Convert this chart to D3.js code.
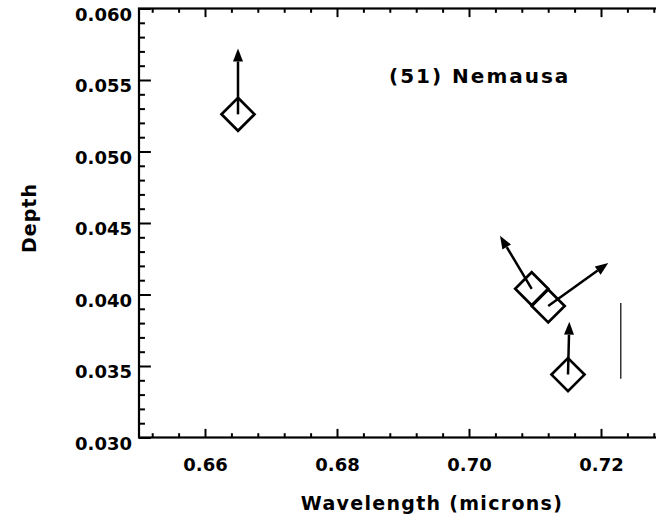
<!DOCTYPE html>
<html>
<head>
<meta charset="utf-8">
<script src="https://cdn.jsdelivr.net/npm/d3@7"></script>
<style>
  html, body { margin: 0; padding: 0; background: #fff; }
  svg { display: block; }
  text { font-family: "DejaVu Sans", sans-serif; font-weight: bold; fill: #000; }
</style>
</head>
<body>
<div id="chart"></div>
<script>
// wavelength (microns) and band depth of each measurement
const wavelength = [0.665, 0.7095, 0.712, 0.715];
const depth = [0.0526, 0.0404, 0.0392, 0.0344];

// where each arrow ends, same units
const arrowWavelength = [0.665, 0.7047, 0.7211, 0.7152];
const arrowDepth = [0.0572, 0.0441, 0.0422, 0.0381];

// lone vertical bar at the right
const barWavelength = [0.7230];
const barDepth = [[0.0341, 0.0394]];

const xMajor = [0.66, 0.68, 0.70, 0.72];
const yMajor = [0.030, 0.035, 0.040, 0.045, 0.050, 0.055, 0.060];

const title = '(51) Nemausa';
const xTitle = 'Wavelength (microns)';
const yTitle = 'Depth';

const width = 656, height = 522;
const plotLeft = 139, plotRight = 733, plotTop = 8.5, plotBottom = 437.5;

const x = d3.scaleLinear().domain([0.65, 0.74]).range([plotLeft, plotRight]);
const y = d3.scaleLinear().domain([0.030, 0.060]).range([plotBottom, plotTop]);

const xMinor = d3.range(0.652, 0.7401, 0.004).filter(v => !xMajor.some(m => Math.abs(m - v) < 1e-6));
const yMinor = d3.range(0.031, 0.0601, 0.001).filter(v => !yMajor.some(m => Math.abs(m - v) < 1e-6));

const svg = d3.select('#chart').append('svg')
  .attr('width', width)
  .attr('height', height);

// ticks: inward on all four sides, minor ones half as long
const xTick = 8.6, yTick = 11.9;

function addAxis(axis, transform) {
  const g = svg.append('g').attr('transform', transform).call(axis);
  g.select('.domain').remove();
  g.selectAll('.tick line').attr('stroke', '#000').attr('stroke-width', 2);
  return g;
}

const bottomAxis = addAxis(d3.axisBottom(x).tickValues(xMajor).tickSize(-xTick).tickPadding(21)
  .tickFormat(d3.format('.2f')), `translate(0,${plotBottom})`);
bottomAxis.selectAll('text').attr('font-size', 18).attr('font-family', null);
addAxis(d3.axisBottom(x).tickValues(xMinor).tickSize(-xTick / 2).tickFormat(''), `translate(0,${plotBottom})`);
addAxis(d3.axisTop(x).tickValues(xMajor).tickSize(-xTick).tickFormat(''), `translate(0,${plotTop})`);
addAxis(d3.axisTop(x).tickValues(xMinor).tickSize(-xTick / 2).tickFormat(''), `translate(0,${plotTop})`);

const leftAxis = addAxis(d3.axisLeft(y).tickValues(yMajor).tickSize(-yTick).tickPadding(7)
  .tickFormat(d3.format('.3f')), `translate(${plotLeft},0)`);
leftAxis.selectAll('text').attr('font-size', 18).attr('font-family', null).attr('dy', '0.64em');
addAxis(d3.axisLeft(y).tickValues(yMinor).tickSize(-yTick / 2).tickFormat(''), `translate(${plotLeft},0)`);
addAxis(d3.axisRight(y).tickValues(yMajor).tickSize(-yTick).tickFormat(''), `translate(${plotRight},0)`);
addAxis(d3.axisRight(y).tickValues(yMinor).tickSize(-yTick / 2).tickFormat(''), `translate(${plotRight},0)`);

// frame
svg.append('rect')
  .attr('x', plotLeft).attr('y', plotTop)
  .attr('width', plotRight - plotLeft).attr('height', plotBottom - plotTop)
  .attr('fill', 'none').attr('stroke', '#000').attr('stroke-width', 2.2);

// arrows from each point
const pts = wavelength.map((w, i) => ({
  x0: x(w), y0: y(depth[i]), x1: x(arrowWavelength[i]), y1: y(arrowDepth[i])
}));

const headLen = 13, headHalf = 5;
pts.forEach(p => {
  const a = Math.atan2(p.y1 - p.y0, p.x1 - p.x0);
  const bx = p.x1 - headLen * Math.cos(a), by = p.y1 - headLen * Math.sin(a);
  svg.append('line')
    .attr('x1', p.x0).attr('y1', p.y0).attr('x2', bx).attr('y2', by)
    .attr('stroke', '#000').attr('stroke-width', 2.5);
  const nx = -Math.sin(a) * headHalf, ny = Math.cos(a) * headHalf;
  svg.append('path')
    .attr('d', `M${p.x1},${p.y1}L${bx + nx},${by + ny}L${bx - nx},${by - ny}Z`)
    .attr('fill', '#000');
});

// diamonds
const r = 16.5;
svg.selectAll('path.diamond').data(pts).join('path')
  .attr('class', 'diamond')
  .attr('d', p => `M${p.x0},${p.y0 - r}L${p.x0 + r},${p.y0}L${p.x0},${p.y0 + r}L${p.x0 - r},${p.y0}Z`)
  .attr('fill', 'none').attr('stroke', '#000').attr('stroke-width', 2.7);

// thin vertical bar
svg.selectAll('line.bar').data(barWavelength).join('line')
  .attr('class', 'bar')
  .attr('x1', d => x(d)).attr('x2', d => x(d))
  .attr('y1', (d, i) => y(barDepth[i][0])).attr('y2', (d, i) => y(barDepth[i][1]))
  .attr('stroke', '#000').attr('stroke-width', 1.2);

// texts
svg.append('text')
  .attr('x', 389).attr('y', 83)
  .attr('font-size', 20).attr('letter-spacing', 2)
  .text(title);

svg.append('text')
  .attr('x', 432).attr('y', 510)
  .attr('text-anchor', 'middle')
  .attr('font-size', 19).attr('letter-spacing', 1.3)
  .text(xTitle);

svg.append('text')
  .attr('transform', 'translate(36,218) rotate(-90)')
  .attr('text-anchor', 'middle')
  .attr('font-size', 19).attr('letter-spacing', 1)
  .text(yTitle);
</script>
</body>
</html>
